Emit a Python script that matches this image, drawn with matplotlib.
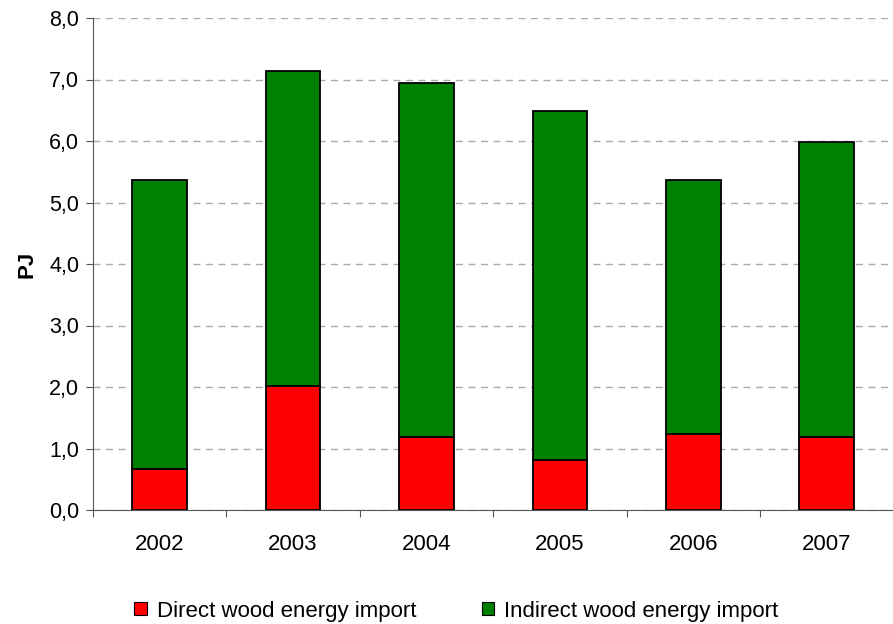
import matplotlib
matplotlib.use("Agg")
import matplotlib.pyplot as plt
import numpy as np

years = ["2002", "2003", "2004", "2005", "2006", "2007"]
direct = [0.67, 2.01, 1.19, 0.81, 1.24, 1.19]
total = [5.37, 7.14, 6.94, 6.48, 5.37, 5.98]
indirect = [t - d for t, d in zip(total, direct)]
yticks = [0, 1, 2, 3, 4, 5, 6, 7, 8]

plt.rcParams['font.family'] = ['Liberation Sans', 'DejaVu Sans']

fig = plt.figure(figsize=(8.93, 6.24), dpi=100)
ax = fig.add_axes([93/893, 1-510/624, 1-93/893+0.0005, (510-18)/624])

x = np.arange(len(years))
w = 0.41
ax.bar(x, direct, w, color='#ff0000', edgecolor='black', linewidth=1.3, label='Direct wood energy import', zorder=3)
ax.bar(x, indirect, w, bottom=direct, color='#008000', edgecolor='black', linewidth=1.3, label='Indirect wood energy import', zorder=3)

ax.set_xlim(-0.5, len(years) - 0.5)
ax.set_ylim(0, 8)
ax.set_yticks(yticks)
ax.set_yticklabels([f"{v:.1f}".replace('.', ',') for v in yticks], fontsize=15.5)
ax.set_xticks(np.arange(-0.5, len(years)), minor=False)
ax.set_xticklabels([])
ax.set_xticks(x, minor=True)
ax.set_xticklabels(years, minor=True, fontsize=16)
ax.tick_params(axis='x', which='minor', length=0, pad=17)
ax.tick_params(axis='x', which='major', length=5, direction='out', color='#555555')
ax.tick_params(axis='y', length=5, direction='out', color='#555555', pad=5)

ax.yaxis.grid(True, linestyle=(0, (5, 4)), color='#aaaaaa', linewidth=1, zorder=0)
for s in ['top', 'right']:
    ax.spines[s].set_visible(False)
for s in ['left', 'bottom']:
    ax.spines[s].set_color('#555555')
ax.set_ylabel('PJ', fontsize=16, fontweight='bold', labelpad=8)

leg = fig.legend(loc='center', bbox_to_anchor=(0.511, 1-611/624), ncol=2, frameon=False,
                 fontsize=16, handlelength=0.55, handleheight=0.55, handletextpad=0.45,
                 columnspacing=2.95)
for h in leg.legend_handles:
    h.set_linewidth(0.8)

fig.savefig('out.png', dpi=100)
